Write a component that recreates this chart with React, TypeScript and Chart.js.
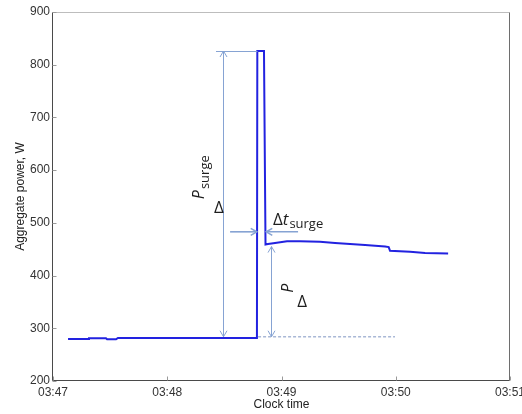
import React, { useEffect, useRef } from 'react';
import { Chart, registerables } from 'chart.js';

Chart.register(...registerables);

// Time in seconds after 03:47:00
const timeSec = [7.9, 18.4, 18.9, 27.8, 28.4, 33.1, 34.1, 107.1, 107.3, 110.8, 111.6, 112.9, 116.6, 122.9, 129.7, 140.2, 148.1, 156.0, 163.9, 174.4, 176.3, 177.0, 187.5, 195.4, 207.5];
// Aggregate power, W
const powerW = [279.5, 279.5, 281, 281, 279, 279, 281.5, 281.5, 826, 826, 459, 460, 462, 465, 465, 464, 462, 460, 458, 455, 454, 447, 445, 443, 442];

const xTickValues = [0, 60, 120, 180, 240];
const xTickLabels = ['03:47', '03:48', '03:49', '03:50', '03:51'];
const yTickValues = [200, 300, 400, 500, 600, 700, 800, 900];

// Annotation geometry, in data units (seconds, W)
const surgeArrow = { x: 89.3, from: 826, to: 284, capFrom: 85.6, capTo: 107.4 };
const dtArrows = { level: 483, leftFrom: 93, leftTo: 107.0, rightFrom: 128.7, rightTo: 112.0 };
const dpArrow = { x: 114.5, from: 455, to: 284 };
const dashLine = { level: 284, from: 107.7, to: 179.6 };
const textSpots = {
  surgeP: { x: 79.3, y: 545 },
  surgeDelta: { x: 87.2, y: 528 },
  dt: { x: 115.5, y: 496 },
  dpP: { x: 123.4, y: 376 },
  dpDelta: { x: 130.8, y: 350 },
};

const arrowColor = '#86a3d3';
const textFont = '"Open Sans", "DejaVu Sans", sans-serif';

function arrowHead(ctx: CanvasRenderingContext2D, tx: number, ty: number, dx: number, dy: number) {
  const len = 6, half = 3.5;
  const px = -dy, py = dx;
  ctx.beginPath();
  ctx.moveTo(tx - dx * len + px * half, ty - dy * len + py * half);
  ctx.lineTo(tx, ty);
  ctx.lineTo(tx - dx * len - px * half, ty - dy * len - py * half);
  ctx.stroke();
}

const overlay = {
  id: 'overlay',
  afterDatasetsDraw(chart: any) {
    const { ctx, chartArea: a, scales } = chart;
    const X = (v: number) => scales.x.getPixelForValue(v);
    const Y = (v: number) => scales.y.getPixelForValue(v);
    ctx.save();

    // axes box
    const L = Math.round(a.left) - 0.5, R = Math.round(a.right) - 0.5;
    const T = Math.round(a.top) + 0.5, B = Math.round(a.bottom) - 0.5;
    ctx.lineWidth = 1;
    ctx.strokeStyle = '#bdbdbd';
    ctx.beginPath(); ctx.moveTo(L, T); ctx.lineTo(R, T); ctx.stroke();
    ctx.strokeStyle = '#6e6e6e';
    ctx.beginPath(); ctx.moveTo(R, T); ctx.lineTo(R, B); ctx.stroke();
    ctx.strokeStyle = '#4a4a4a';
    ctx.beginPath(); ctx.moveTo(L, T); ctx.lineTo(L, B); ctx.lineTo(R, B); ctx.stroke();

    // inner ticks
    ctx.strokeStyle = '#9a9a9a';
    yTickValues.forEach((v) => {
      const yy = Math.round(Y(v)) + 0.5;
      ctx.beginPath(); ctx.moveTo(L, yy); ctx.lineTo(L + 4, yy); ctx.stroke();
    });
    xTickValues.forEach((v) => {
      const xx = Math.round(X(v)) + 0.5;
      ctx.beginPath(); ctx.moveTo(xx, B); ctx.lineTo(xx, B - 4); ctx.stroke();
    });

    // dashed baseline continuation
    ctx.strokeStyle = '#a9b8d6';
    ctx.lineWidth = 1.5;
    ctx.setLineDash([3, 2]);
    ctx.beginPath(); ctx.moveTo(X(dashLine.from), Y(dashLine.level)); ctx.lineTo(X(dashLine.to), Y(dashLine.level)); ctx.stroke();
    ctx.setLineDash([]);

    // surge arrow
    ctx.strokeStyle = arrowColor;
    ctx.lineWidth = 1;
    const sx = Math.round(X(surgeArrow.x)) + 0.5;
    ctx.beginPath(); ctx.moveTo(X(surgeArrow.capFrom), Math.round(Y(surgeArrow.from)) + 0.5); ctx.lineTo(X(surgeArrow.capTo), Math.round(Y(surgeArrow.from)) + 0.5); ctx.stroke();
    ctx.beginPath(); ctx.moveTo(sx, Y(surgeArrow.from)); ctx.lineTo(sx, Y(surgeArrow.to)); ctx.stroke();
    arrowHead(ctx, sx, Y(surgeArrow.from), 0, -1);
    arrowHead(ctx, sx, Y(surgeArrow.to), 0, 1);

    // dP arrow
    const dx = Math.round(X(dpArrow.x)) + 0.5;
    ctx.beginPath(); ctx.moveTo(dx, Y(dpArrow.from)); ctx.lineTo(dx, Y(dpArrow.to)); ctx.stroke();
    arrowHead(ctx, dx, Y(dpArrow.from), 0, -1);
    arrowHead(ctx, dx, Y(dpArrow.to), 0, 1);

    // dt arrows
    ctx.lineWidth = 1.6;
    const ty = Y(dtArrows.level);
    ctx.beginPath(); ctx.moveTo(X(dtArrows.leftFrom), ty); ctx.lineTo(X(dtArrows.leftTo), ty); ctx.stroke();
    arrowHead(ctx, X(dtArrows.leftTo), ty, 1, 0);
    ctx.beginPath(); ctx.moveTo(X(dtArrows.rightFrom), ty); ctx.lineTo(X(dtArrows.rightTo), ty); ctx.stroke();
    arrowHead(ctx, X(dtArrows.rightTo), ty, -1, 0);

    // texts
    ctx.fillStyle = '#1e1e1e';
    // P_surge (rotated)
    ctx.save();
    ctx.translate(X(textSpots.surgeP.x), Y(textSpots.surgeP.y));
    ctx.rotate(-Math.PI / 2);
    ctx.textAlign = 'left';
    ctx.textBaseline = 'alphabetic';
    ctx.font = 'italic 16px ' + textFont;
    ctx.fillText('P', 0, 0);
    const pw = ctx.measureText('P').width;
    ctx.font = '13px ' + textFont;
    ctx.fillText('surge', pw + 1, 5);
    ctx.restore();
    // upper delta
    ctx.textAlign = 'center';
    ctx.textBaseline = 'middle';
    ctx.font = '17px ' + textFont;
    ctx.fillText('\u0394', X(textSpots.surgeDelta.x), Y(textSpots.surgeDelta.y));
    ctx.fillText('\u0394', X(textSpots.dpDelta.x), Y(textSpots.dpDelta.y));
    // lower P rotated
    ctx.save();
    ctx.translate(X(textSpots.dpP.x), Y(textSpots.dpP.y));
    ctx.rotate(-Math.PI / 2);
    ctx.font = 'italic 16px ' + textFont;
    ctx.fillText('P', 0, 0);
    ctx.restore();
    // delta t surge
    ctx.textAlign = 'left';
    ctx.textBaseline = 'alphabetic';
    let cx = X(textSpots.dt.x);
    const cy = Y(textSpots.dt.y);
    ctx.font = '17px ' + textFont;
    ctx.fillText('\u0394', cx, cy);
    cx += ctx.measureText('\u0394').width;
    ctx.font = 'italic 17px ' + textFont;
    ctx.fillText('t', cx, cy);
    cx += ctx.measureText('t').width + 1;
    ctx.font = '13px ' + textFont;
    ctx.fillText('surge', cx, cy + 3);

    ctx.restore();
  },
};

export default function App() {
  const canvasRef = useRef<HTMLCanvasElement | null>(null);

  useEffect(() => {
    if (!canvasRef.current) return;
    const tickFont = { family: '"Liberation Sans", Arial, sans-serif', size: 12 };
    const chart = new Chart(canvasRef.current, {
      type: 'line',
      data: {
        datasets: [
          {
            data: timeSec.map((t, i) => ({ x: t, y: powerW[i] })),
            borderColor: '#2222e0',
            borderWidth: 2,
            pointRadius: 0,
            tension: 0,
            fill: false,
          },
        ],
      },
      options: {
        animation: false,
        responsive: false,
        devicePixelRatio: 1,
        layout: { padding: { top: 12, right: 12, left: 0, bottom: 0 } },
        plugins: { legend: { display: false }, tooltip: { enabled: false } },
        scales: {
          x: {
            type: 'linear',
            min: 0,
            max: 240,
            afterBuildTicks: (s: any) => {
              s.ticks = xTickValues.map((v) => ({ value: v }));
            },
            afterFit: (s: any) => {
              s.height = 33;
              s.paddingLeft = 0;
              s.paddingRight = 0;
            },
            ticks: {
              autoSkip: false,
              maxRotation: 0,
              padding: 4,
              color: '#333',
              font: tickFont,
              callback: (v: any) => {
                const i = xTickValues.indexOf(Number(v));
                return i >= 0 ? xTickLabels[i] : '';
              },
            },
            grid: { display: false, drawTicks: false },
            border: { display: false },
            title: { display: true, text: 'Clock time', color: '#222', font: tickFont, padding: { top: 0, bottom: 2 } },
          },
          y: {
            type: 'linear',
            min: 200,
            max: 900,
            afterBuildTicks: (s: any) => {
              s.ticks = yTickValues.map((v) => ({ value: v }));
            },
            afterFit: (s: any) => {
              s.width = 53;
              s.paddingTop = 0;
              s.paddingBottom = 0;
            },
            ticks: { padding: 3, color: '#333', font: tickFont },
            grid: { display: false, drawTicks: false },
            border: { display: false },
            title: { display: true, text: 'Aggregate power, W', color: '#222', font: tickFont, padding: { top: 13, bottom: 0 } },
          },
        },
      },
      plugins: [overlay],
    });
    return () => chart.destroy();
  }, []);

  return (
    <div style={{ position: 'absolute', left: 0, top: 0, width: 522, height: 414, background: '#fff' }}>
      <canvas ref={canvasRef} width={522} height={414} style={{ display: 'block' }} />
    </div>
  );
}
